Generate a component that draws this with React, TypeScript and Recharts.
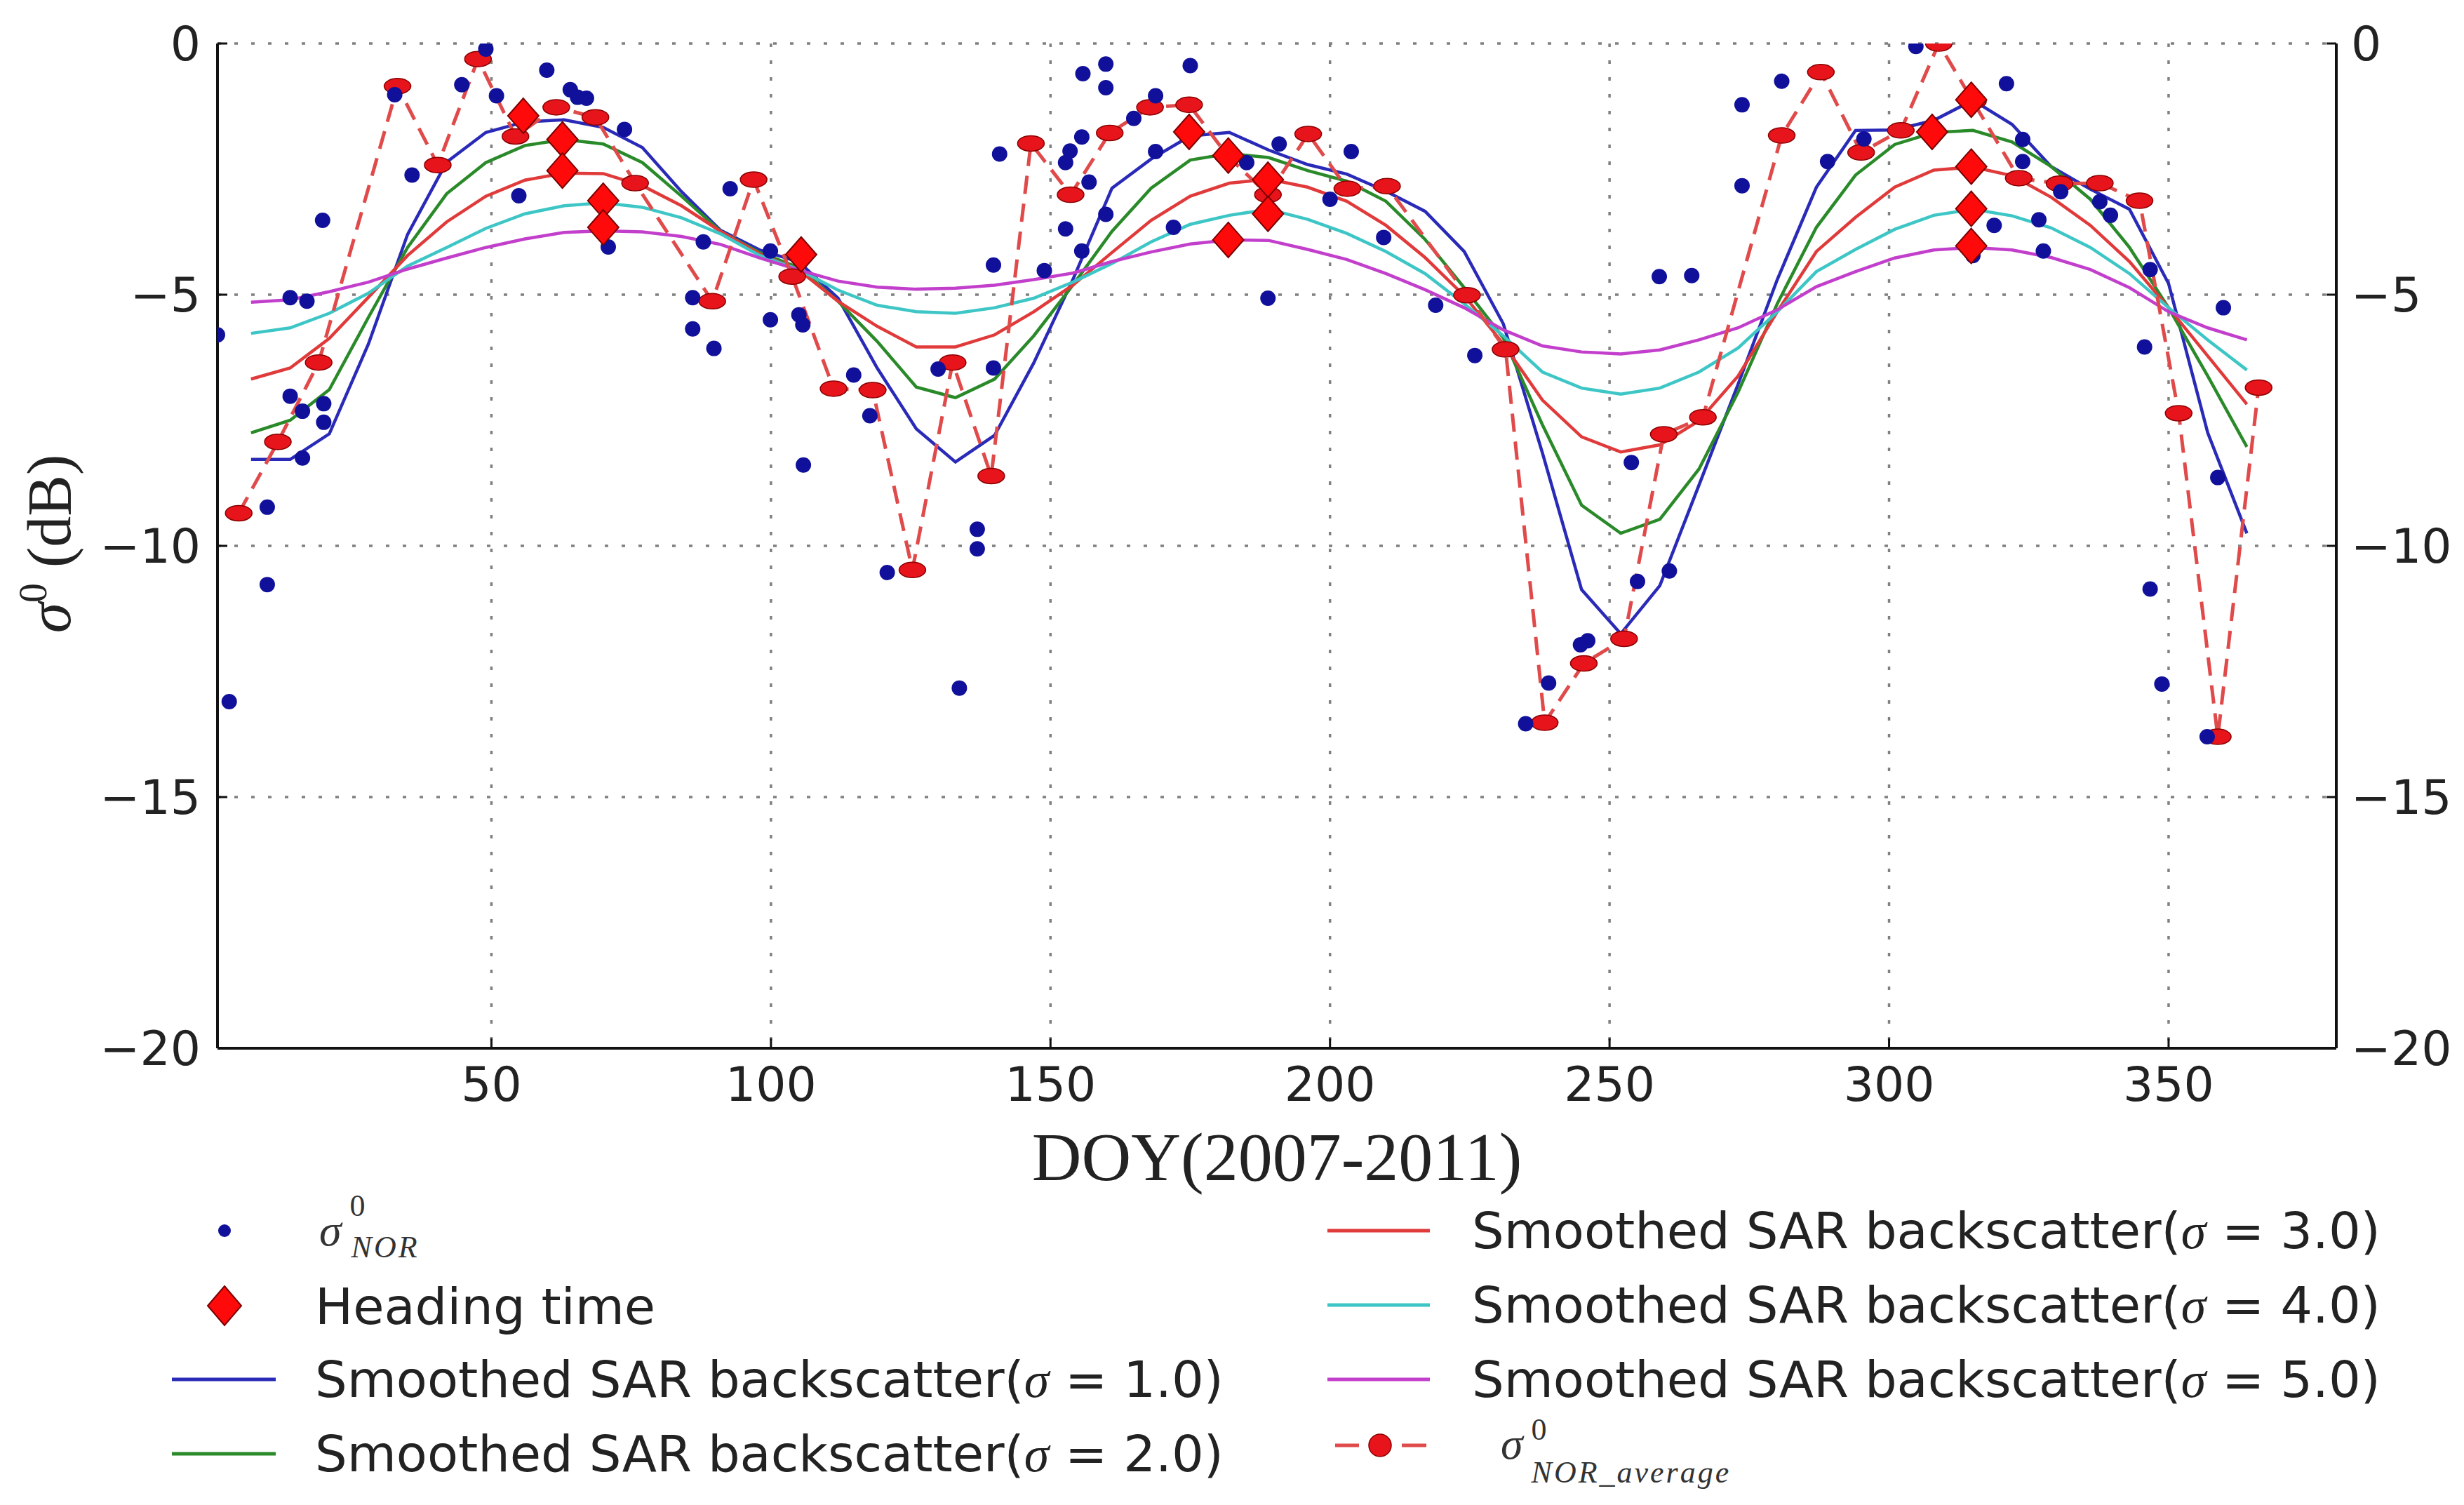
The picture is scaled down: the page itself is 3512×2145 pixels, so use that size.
import React from 'react';
import { ComposedChart, Line, Scatter, XAxis, YAxis, CartesianGrid } from 'recharts';

// ---------- data ----------
const CURVE_DOY = [7, 14, 21, 28, 35, 42, 49, 56, 63, 70, 77, 84, 91, 98, 105, 112, 119, 126, 133, 140, 147, 154, 161, 168, 175, 182, 189, 196, 203, 210, 217, 224, 231, 238, 245, 252, 259, 266, 273, 280, 287, 294, 301, 308, 315, 322, 329, 336, 343, 350, 357, 364];

const SMOOTH_S1 = [-8.28, -8.28, -7.77, -5.98, -3.8, -2.36, -1.77, -1.56, -1.52, -1.67, -2.07, -2.95, -3.72, -4.11, -4.35, -5.07, -6.46, -7.67, -8.33, -7.8, -6.36, -4.7, -2.88, -2.3, -1.84, -1.77, -2.12, -2.41, -2.6, -2.94, -3.34, -4.14, -5.58, -8.15, -10.87, -11.75, -10.79, -8.79, -6.78, -4.7, -2.86, -1.73, -1.72, -1.53, -1.13, -1.61, -2.45, -2.9, -3.3, -4.78, -7.75, -9.75];
const SMOOTH_S2 = [-7.75, -7.5, -6.89, -5.45, -4.06, -2.99, -2.37, -2.03, -1.91, -2.0, -2.37, -3.04, -3.74, -4.16, -4.46, -5.13, -5.93, -6.84, -7.05, -6.68, -5.82, -4.81, -3.74, -2.88, -2.32, -2.19, -2.27, -2.53, -2.74, -3.14, -3.9, -4.86, -5.86, -7.59, -9.19, -9.75, -9.47, -8.47, -6.94, -5.18, -3.66, -2.62, -2.01, -1.77, -1.73, -1.96, -2.45, -3.1, -4.06, -5.26, -6.62, -8.03];
const SMOOTH_S3 = [-6.68, -6.46, -5.87, -5.05, -4.22, -3.55, -3.04, -2.72, -2.58, -2.59, -2.83, -3.23, -3.74, -4.19, -4.51, -5.13, -5.63, -6.04, -6.04, -5.8, -5.34, -4.81, -4.16, -3.52, -3.04, -2.78, -2.7, -2.86, -3.14, -3.62, -4.26, -5.02, -5.98, -7.1, -7.83, -8.13, -7.99, -7.51, -6.62, -5.34, -4.14, -3.46, -2.86, -2.52, -2.46, -2.63, -3.06, -3.62, -4.34, -5.26, -6.22, -7.18];
const SMOOTH_S4 = [-5.77, -5.66, -5.37, -4.97, -4.43, -4.06, -3.68, -3.39, -3.23, -3.17, -3.26, -3.47, -3.79, -4.22, -4.5, -4.91, -5.21, -5.34, -5.37, -5.26, -5.07, -4.75, -4.38, -3.95, -3.6, -3.42, -3.3, -3.5, -3.78, -4.14, -4.58, -5.18, -5.82, -6.54, -6.86, -6.98, -6.86, -6.54, -6.06, -5.34, -4.54, -4.1, -3.7, -3.42, -3.3, -3.43, -3.67, -4.06, -4.58, -5.26, -5.9, -6.5];
const SMOOTH_S5 = [-5.15, -5.1, -4.94, -4.75, -4.49, -4.27, -4.06, -3.89, -3.76, -3.73, -3.75, -3.84, -4.0, -4.27, -4.51, -4.73, -4.85, -4.89, -4.87, -4.81, -4.7, -4.57, -4.34, -4.15, -3.99, -3.91, -3.92, -4.1, -4.3, -4.58, -4.9, -5.26, -5.7, -6.02, -6.14, -6.18, -6.1, -5.9, -5.66, -5.3, -4.84, -4.54, -4.27, -4.11, -4.06, -4.11, -4.26, -4.5, -4.86, -5.34, -5.66, -5.9];

const NOR_DOY = [1.0, 3.1, 9.9, 9.9, 14.0, 17.0, 14.0, 16.2, 16.2, 20.0, 20.0, 19.8, 35.8, 32.7, 44.7, 49.0, 50.9, 54.9, 59.9, 64.1, 65.4, 67.0, 70.9, 73.8, 87.9, 86.0, 86.0, 89.8, 92.7, 99.9, 99.9, 105.0, 105.7, 105.8, 114.8, 117.7, 120.8, 129.9, 133.7, 136.9, 136.9, 139.8, 139.8, 140.9, 148.9, 152.7, 152.7, 153.5, 155.6, 155.6, 155.8, 156.9, 159.9, 159.9, 159.9, 164.9, 168.8, 168.8, 172.0, 175.0, 185.1, 188.9, 190.9, 200.0, 203.8, 209.6, 218.9, 225.9, 235.0, 239.1, 244.8, 246.1, 253.9, 255.0, 260.7, 258.9, 264.7, 273.7, 273.7, 280.8, 289.0, 295.5, 304.8, 315.0, 318.8, 321.0, 323.9, 323.9, 326.8, 327.6, 330.7, 337.7, 339.6, 346.7, 345.7, 346.7, 348.8, 359.8, 358.8, 356.9];
const NOR_VAL = [-5.8, -13.1, -9.23, -10.77, -5.06, -5.13, -7.02, -7.32, -8.25, -7.17, -7.54, -3.52, -2.62, -1.02, -0.82, -0.11, -1.04, -3.03, -0.53, -0.92, -1.07, -1.09, -4.05, -1.71, -3.95, -5.06, -5.68, -6.07, -2.89, -4.13, -5.5, -5.4, -5.6, -8.39, -6.6, -7.41, -10.53, -6.48, -12.83, -9.67, -10.06, -4.41, -6.46, -2.2, -4.52, -3.69, -2.37, -2.14, -1.86, -4.13, -0.6, -2.76, -0.41, -0.88, -3.4, -1.49, -1.04, -2.15, -3.66, -0.44, -2.37, -5.07, -2.0, -3.1, -2.15, -3.86, -5.21, -6.21, -13.54, -12.73, -11.97, -11.89, -8.34, -10.71, -10.5, -4.64, -4.62, -2.83, -1.22, -0.75, -2.35, -1.9, -0.06, -4.22, -3.62, -0.8, -1.91, -2.35, -3.51, -4.13, -2.95, -3.15, -3.42, -4.5, -6.04, -10.86, -12.75, -5.26, -8.64, -13.8];

const AVG_DOY = [4.8, 11.8, 19.1, 33.2, 40.4, 47.6, 54.3, 61.6, 68.6, 75.7, 89.5, 96.9, 103.8, 111.2, 118.2, 125.3, 132.5, 139.4, 146.5, 153.6, 160.6, 167.8, 174.8, 181.8, 188.9, 196.1, 203.1, 210.2, 224.5, 231.4, 238.4, 245.4, 252.6, 259.7, 266.7, 280.8, 287.8, 295.0, 302.1, 308.9, 315.0, 323.2, 330.5, 337.7, 344.8, 351.8, 358.8, 366.1];
const AVG_VAL = [-9.35, -7.93, -6.35, -0.85, -2.42, -0.31, -1.85, -1.27, -1.47, -2.78, -5.13, -2.71, -4.64, -6.87, -6.9, -10.48, -6.35, -8.61, -1.99, -3.01, -1.78, -1.27, -1.22, -2.25, -3.01, -1.8, -2.89, -2.84, -5.01, -6.09, -13.52, -12.34, -11.85, -7.78, -7.44, -1.83, -0.57, -2.17, -1.73, 0.0, -1.15, -2.68, -2.79, -2.78, -3.13, -7.36, -13.8, -6.85];

const HEAD_DOY = [55.7, 62.7, 62.7, 70.0, 70.0, 105.4, 174.8, 181.8, 181.8, 188.9, 188.9, 307.7, 314.7, 314.7, 314.7, 314.7];
const HEAD_VAL = [-1.44, -1.91, -2.53, -3.13, -3.66, -4.2, -1.76, -2.23, -3.91, -2.71, -3.39, -1.76, -1.12, -2.45, -3.29, -4.03];

const X_TICKS = [50, 100, 150, 200, 250, 300, 350];
const Y_TICKS = [-20, -15, -10, -5, 0];

const SERIES_LABELS = [
  'Smoothed SAR backscatter(σ = 1.0)',
  'Smoothed SAR backscatter(σ = 2.0)',
  'Smoothed SAR backscatter(σ = 3.0)',
  'Smoothed SAR backscatter(σ = 4.0)',
  'Smoothed SAR backscatter(σ = 5.0)',
];

// ---------- styling ----------
const C_S1 = '#2a2ab8';
const C_S2 = '#2a8a2a';
const C_S3 = '#e03a3a';
const C_S4 = '#3ec6c6';
const C_S5 = '#c23fcc';
const C_DOT = '#10109a';
const C_AVG = '#e04a4a';
const TICK_FONT = { fontSize: 68, fontFamily: 'DejaVu Sans', fill: '#222' };
const LINE_W = 4.5;

const toPts = (xs: number[], ys: number[]) => xs.map((x, i) => ({ x, y: ys[i] }));
const fmt = (v: number) => String(v).replace('-', '\u2212');

const s1 = toPts(CURVE_DOY, SMOOTH_S1);
const s2 = toPts(CURVE_DOY, SMOOTH_S2);
const s3 = toPts(CURVE_DOY, SMOOTH_S3);
const s4 = toPts(CURVE_DOY, SMOOTH_S4);
const s5 = toPts(CURVE_DOY, SMOOTH_S5);
const nor = toPts(NOR_DOY, NOR_VAL);
const avg = toPts(AVG_DOY, AVG_VAL);
const head = toPts(HEAD_DOY, HEAD_VAL);

const DotShape = (p: any) => <circle cx={p.cx} cy={p.cy} r={11} fill={C_DOT} />;
const DiamondShape = (p: any) => {
  const { cx, cy } = p;
  return (
    <polygon
      points={`${cx},${cy - 25} ${cx + 22},${cy} ${cx},${cy + 25} ${cx - 22},${cy}`}
      fill="#ff0a0a"
      stroke="#7a0000"
      strokeWidth={2}
    />
  );
};
const AvgDot = (p: any) => (
  <ellipse key={`avg-${p.index}`} cx={p.cx} cy={p.cy} rx={19} ry={11} fill="#e8141c" stroke="#8b0000" strokeWidth={1.5} />
);

// σ with a superscript 0 and a subscript, drawn as one text element
function SigmaSym({ x, y, sub, subDx, supDy, subDy }: { x: number; y: number; sub: string; subDx: number; supDy: number; subDy: number }) {
  return (
    <text x={x} y={y} fontFamily="Liberation Serif" fill="#333" fontSize={64}>
      <tspan fontStyle="italic">σ</tspan>
      <tspan dx={12} dy={supDy} fontSize={44}>0</tspan>
      <tspan dx={subDx} dy={subDy} fontSize={44} fontStyle="italic" letterSpacing={3}>{sub}</tspan>
    </text>
  );
}

function LegendText({ x, y, label }: { x: number; y: number; label: string }) {
  const idx = label.indexOf('σ');
  return (
    <text x={x} y={y} fontSize={72} fontFamily="DejaVu Sans" fill="#222">
      {label.slice(0, idx)}
      <tspan fontFamily="Liberation Serif" fontStyle="italic">σ</tspan>
      {label.slice(idx + 1)}
    </text>
  );
}

function Overlay() {
  const colL = { handle0: 245, handle1: 393, text: 449 };
  const colR = { handle0: 1892, handle1: 2038, text: 2098 };
  return (
    <svg width={3512} height={2145} style={{ position: 'absolute', left: 0, top: 0, pointerEvents: 'none' }}>
      {/* axis titles */}
      <text x={1820} y={1682} textAnchor="middle" fontFamily="Liberation Serif" fontSize={98} fill="#222">
        DOY(2007-2011)
      </text>
      <text transform="translate(100,775) rotate(-90)" textAnchor="middle" fontFamily="Liberation Serif" fontSize={88} fill="#222">
        <tspan fontStyle="italic">σ</tspan>
        <tspan dy={-34} fontSize={56}>0</tspan>
        <tspan dy={34}> (dB)</tspan>
      </text>

      {/* legend - left column */}
      <circle cx={320} cy={1754} r={9} fill={C_DOT} />
      <SigmaSym x={455} y={1775} sub="NOR" subDx={-20} supDy={-42} subDy={59} />

      <polygon points="320,1833 344,1861 320,1889 296,1861" fill="#ff0a0a" stroke="#7a0000" strokeWidth={2} />
      <text x={colL.text} y={1887} fontSize={72} fontFamily="DejaVu Sans" fill="#222">Heading time</text>

      <line x1={colL.handle0} x2={colL.handle1} y1={1966} y2={1966} stroke={C_S1} strokeWidth={5} />
      <LegendText x={colL.text} y={1991} label={SERIES_LABELS[0]} />

      <line x1={colL.handle0} x2={colL.handle1} y1={2072} y2={2072} stroke={C_S2} strokeWidth={5} />
      <LegendText x={colL.text} y={2097} label={SERIES_LABELS[1]} />

      {/* legend - right column */}
      <line x1={colR.handle0} x2={colR.handle1} y1={1754} y2={1754} stroke={C_S3} strokeWidth={5} />
      <LegendText x={colR.text} y={1779} label={SERIES_LABELS[2]} />

      <line x1={colR.handle0} x2={colR.handle1} y1={1860} y2={1860} stroke={C_S4} strokeWidth={5} />
      <LegendText x={colR.text} y={1885} label={SERIES_LABELS[3]} />

      <line x1={colR.handle0} x2={colR.handle1} y1={1966} y2={1966} stroke={C_S5} strokeWidth={5} />
      <LegendText x={colR.text} y={1991} label={SERIES_LABELS[4]} />

      <line x1={1903} x2={1937} y1={2060} y2={2060} stroke={C_AVG} strokeWidth={5} />
      <line x1={1998} x2={2033} y1={2060} y2={2060} stroke={C_AVG} strokeWidth={5} />
      <circle cx={1967} cy={2060} r={16} fill="#e8141c" stroke="#8b0000" strokeWidth={1.5} />
      <SigmaSym x={2139} y={2079} sub="NOR_average" subDx={-22} supDy={-27} subDy={61} />
    </svg>
  );
}

export default function App() {
  return (
    <div style={{ position: 'absolute', left: 0, top: 0, width: 3512, height: 2145, background: '#fff' }}>
      <ComposedChart width={3512} height={1640} margin={{ top: 62, right: 32, bottom: 26, left: 160 }}>
        <CartesianGrid stroke="#808080" strokeWidth={3.5} strokeDasharray="5 19" />
        <XAxis
          dataKey="x"
          type="number"
          domain={[1, 380]}
          ticks={X_TICKS}
          allowDataOverflow
          height={120}
          axisLine={{ stroke: '#111', strokeWidth: 4 }}
          tickLine={{ stroke: '#111', strokeWidth: 3 }}
          tickSize={-14}
          tickMargin={41}
          tick={TICK_FONT}
        />
        <XAxis
          xAxisId="top"
          orientation="top"
          dataKey="x"
          type="number"
          domain={[1, 380]}
          allowDataOverflow
          height={0}
          axisLine={{ stroke: '#111', strokeWidth: 4 }}
          tick={false}
          tickLine={false}
        />
        <YAxis
          dataKey="y"
          type="number"
          domain={[-20, 0]}
          ticks={Y_TICKS}
          allowDataOverflow
          width={150}
          axisLine={{ stroke: '#111', strokeWidth: 4 }}
          tickLine={{ stroke: '#111', strokeWidth: 3 }}
          tickSize={-14}
          tickMargin={38}
          tick={TICK_FONT}
          tickFormatter={fmt}
        />
        <YAxis
          yAxisId="right"
          orientation="right"
          type="number"
          domain={[-20, 0]}
          ticks={Y_TICKS}
          allowDataOverflow
          width={150}
          axisLine={{ stroke: '#111', strokeWidth: 4 }}
          tickLine={{ stroke: '#111', strokeWidth: 3 }}
          tickSize={-14}
          tickMargin={35}
          tick={TICK_FONT}
          tickFormatter={fmt}
        />
        <Line data={s1} dataKey="y" type="linear" stroke={C_S1} strokeWidth={LINE_W} dot={false} isAnimationActive={false} />
        <Line data={s2} dataKey="y" type="linear" stroke={C_S2} strokeWidth={LINE_W} dot={false} isAnimationActive={false} />
        <Line data={s3} dataKey="y" type="linear" stroke={C_S3} strokeWidth={LINE_W} dot={false} isAnimationActive={false} />
        <Line data={s4} dataKey="y" type="linear" stroke={C_S4} strokeWidth={LINE_W} dot={false} isAnimationActive={false} />
        <Line data={s5} dataKey="y" type="linear" stroke={C_S5} strokeWidth={LINE_W} dot={false} isAnimationActive={false} />
        <Line
          data={avg}
          dataKey="y"
          type="linear"
          stroke={C_AVG}
          strokeWidth={5}
          strokeDasharray="26 14"
          dot={AvgDot}
          isAnimationActive={false}
        />
        <Scatter data={nor} dataKey="y" shape={DotShape} isAnimationActive={false} />
        <Scatter data={head} dataKey="y" shape={DiamondShape} isAnimationActive={false} />
      </ComposedChart>
      <Overlay />
    </div>
  );
}
